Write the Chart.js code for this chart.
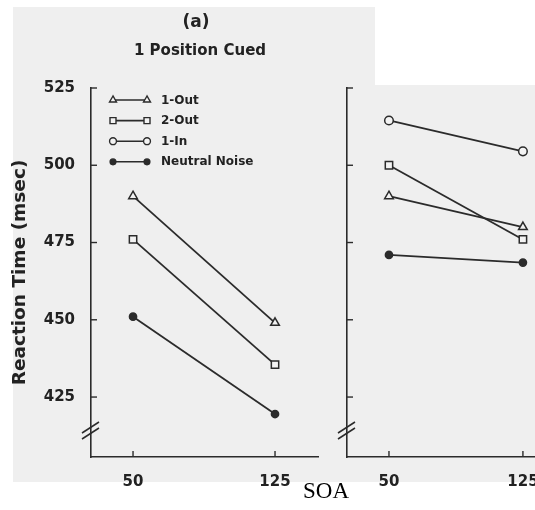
<!DOCTYPE html>
<html><head><meta charset="utf-8">
<script src="https://cdn.jsdelivr.net/npm/chart.js@4.4.1/dist/chart.umd.min.js"></script>
<style>
html,body{margin:0;padding:0;background:#fff;}
#wrap{position:relative;width:535px;height:510px;overflow:hidden;}
.bg{position:absolute;background:#efefef;}
canvas{position:absolute;left:0;top:0;}
.txt{position:absolute;font-family:'DejaVu Sans',sans-serif;font-weight:bold;color:#222;white-space:nowrap;transform:translate(-50%,-50%);}
</style></head>
<body><div id="wrap">
<div class="bg" style="left:13px;top:7px;width:362px;height:475px"></div>
<div class="bg" style="left:340px;top:85px;width:195px;height:397px"></div>
<canvas id="left" width="398" height="510"></canvas>
<canvas id="right" width="600" height="510"></canvas>
<div class="txt" style="left:196px;top:21px;font-size:17px">(a)</div>
<div class="txt" style="left:200px;top:50px;font-size:15px">1 Position Cued</div>
<div class="txt" style="left:326px;top:491px;font-family:'Liberation Serif','Times New Roman',serif;font-weight:normal;font-size:23px;color:#000">SOA</div>
</div>
<script>
// ---- data ----
const soa = [50, 125];
const yTicks = [425, 450, 475, 500, 525];
const seriesLabels = ['1-Out', '2-Out', '1-In', 'Neutral Noise'];
const leftOut1 = [490, 449];
const leftOut2 = [476, 435.5];
const leftIn1 = [null, null];
const leftNeutral = [451, 419.5];
const rightOut1 = [490, 480];
const rightOut2 = [500, 476];
const rightIn1 = [514.5, 504.5];
const rightNeutral = [471, 468.5];

// ---- styles ----
const INK = '#2b2b2b';
const OPEN = '#f3f3f3';
const styles = [
  {pointStyle: 'triangle', radius: 5, fill: OPEN},
  {pointStyle: 'rect', radius: 5.2, fill: OPEN},
  {pointStyle: 'circle', radius: 4.3, fill: OPEN},
  {pointStyle: 'circle', radius: 3.6, fill: INK}
];
const FONT = "'DejaVu Sans', sans-serif";

function makeDatasets(arrs) {
  return arrs.map((vals, i) => ({
    label: seriesLabels[i],
    data: soa.map((x, j) => ({x: x, y: vals[j]})),
    borderColor: INK,
    borderWidth: 1.8,
    pointStyle: styles[i].pointStyle,
    pointRadius: styles[i].radius,
    pointBorderWidth: 1.5,
    pointBorderColor: INK,
    pointBackgroundColor: styles[i].fill,
    spanGaps: false
  }));
}

function drawMarker(ctx, style, x, y, r, fill) {
  ctx.beginPath();
  if (style === 'triangle') {
    ctx.moveTo(x, y - r);
    ctx.lineTo(x - r * 0.87, y + r * 0.5);
    ctx.lineTo(x + r * 0.87, y + r * 0.5);
    ctx.closePath();
  } else if (style === 'rect') {
    const s = r * 0.72;
    ctx.rect(x - s, y - s, 2 * s, 2 * s);
  } else {
    ctx.arc(x, y, r, 0, Math.PI * 2);
  }
  ctx.fillStyle = fill; ctx.fill();
  ctx.lineWidth = 1.4; ctx.strokeStyle = INK; ctx.stroke();
}

const decor = {
  id: 'decor',
  afterDraw(chart) {
    const {ctx, chartArea: a, scales: {x, y}} = chart;
    ctx.save();
    ctx.strokeStyle = INK; ctx.lineWidth = 1.4;
    const line = (x1, y1, x2, y2) => { ctx.beginPath(); ctx.moveTo(x1, y1); ctx.lineTo(x2, y2); ctx.stroke(); };
    yTicks.forEach(v => { const py = y.getPixelForValue(v); line(a.left, py, a.left + 6, py); });
    soa.forEach(v => { const px = x.getPixelForValue(v); if (px < chart.width) line(px, a.bottom, px, a.bottom - 6); });
    // axis break marks
    const by = a.bottom - 27;
    ctx.lineWidth = 1.5;
    line(a.left - 9, by + 3, a.left + 8, by - 8);
    line(a.left - 9, by + 9, a.left + 8, by - 2);
    ctx.restore();
  }
};

const legendPlugin = {
  id: 'lineLegend',
  afterDraw(chart) {
    const ctx = chart.ctx;
    ctx.save();
    ctx.font = "bold 12px " + FONT;
    ctx.textBaseline = 'middle';
    ctx.textAlign = 'left';
    chart.data.datasets.forEach((ds, i) => {
      const yy = 100 + i * 20.6;
      ctx.strokeStyle = INK; ctx.lineWidth = 1.6;
      ctx.beginPath(); ctx.moveTo(113, yy); ctx.lineTo(147, yy); ctx.stroke();
      const st = styles[i];
      drawMarker(ctx, st.pointStyle, 113, yy, st.radius * 0.8, st.fill);
      drawMarker(ctx, st.pointStyle, 147, yy, st.radius * 0.8, st.fill);
      ctx.fillStyle = '#222';
      ctx.fillText(ds.label, 161, yy + 0.5);
    });
    ctx.restore();
  }
};

function scalesFor(xmin, xmax, yWidth, showYLabels, yTitle) {
  return {
    x: {
      type: 'linear', min: xmin, max: xmax,
      afterBuildTicks: s => { s.ticks = soa.map(v => ({value: v})); },
      afterFit: s => { s.height = 53; },
      grid: {display: false},
      border: {display: true, color: INK, width: 1.6},
      ticks: {color: '#222', padding: 8, font: {family: FONT, size: 15, weight: 'bold'}}
    },
    y: {
      type: 'linear', min: 405.6, max: 525,
      afterBuildTicks: s => { s.ticks = yTicks.map(v => ({value: v})); },
      afterFit: s => { s.width = yWidth; },
      grid: {display: false},
      border: {display: true, color: INK, width: 1.6},
      ticks: {display: showYLabels, color: '#222', padding: 8, font: {family: FONT, size: 15, weight: 'bold'}},
      title: yTitle ? {display: true, text: yTitle, color: '#222', padding: {top: 9, bottom: 0},
        font: {family: FONT, size: 18.5, weight: 'bold'}} : {display: false}
    }
  };
}

const common = {
  responsive: false, animation: false, devicePixelRatio: 1,
  plugins: {legend: {display: false}, tooltip: {enabled: false}, title: {display: false}}
};

new Chart(document.getElementById('left'), {
  type: 'line',
  data: {datasets: makeDatasets([leftOut1, leftOut2, leftIn1, leftNeutral])},
  options: Object.assign({}, common, {
    layout: {padding: {left: 0, top: 88, right: 80, bottom: 0}},
    scales: scalesFor(27.8, 147.7, 91, true, 'Reaction Time (msec)')
  }),
  plugins: [decor, legendPlugin]
});

new Chart(document.getElementById('right'), {
  type: 'line',
  data: {datasets: makeDatasets([rightOut1, rightOut2, rightIn1, rightNeutral])},
  options: Object.assign({}, common, {
    layout: {padding: {left: 347, top: 88, right: 36, bottom: 0}},
    scales: scalesFor(26.5, 148, 0, false, null)
  }),
  plugins: [decor]
});
</script>
</body></html>
